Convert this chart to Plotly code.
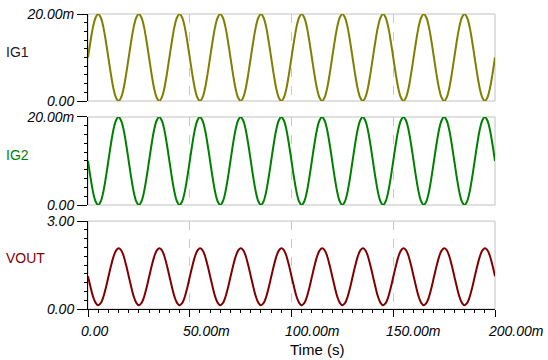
import plotly.graph_objects as go

# Time samples (ms)
t_ms = [
    0.0, 1.25, 2.5, 3.75, 5.0, 6.25, 7.5, 8.75, 10.0, 11.25, 12.5, 13.75, 15.0, 16.25, 17.5, 18.75,
    20.0, 21.25, 22.5, 23.75, 25.0, 26.25, 27.5, 28.75, 30.0, 31.25, 32.5, 33.75, 35.0, 36.25, 37.5, 38.75,
    40.0, 41.25, 42.5, 43.75, 45.0, 46.25, 47.5, 48.75, 50.0, 51.25, 52.5, 53.75, 55.0, 56.25, 57.5, 58.75,
    60.0, 61.25, 62.5, 63.75, 65.0, 66.25, 67.5, 68.75, 70.0, 71.25, 72.5, 73.75, 75.0, 76.25, 77.5, 78.75,
    80.0, 81.25, 82.5, 83.75, 85.0, 86.25, 87.5, 88.75, 90.0, 91.25, 92.5, 93.75, 95.0, 96.25, 97.5, 98.75,
    100.0, 101.25, 102.5, 103.75, 105.0, 106.25, 107.5, 108.75, 110.0, 111.25, 112.5, 113.75, 115.0, 116.25, 117.5, 118.75,
    120.0, 121.25, 122.5, 123.75, 125.0, 126.25, 127.5, 128.75, 130.0, 131.25, 132.5, 133.75, 135.0, 136.25, 137.5, 138.75,
    140.0, 141.25, 142.5, 143.75, 145.0, 146.25, 147.5, 148.75, 150.0, 151.25, 152.5, 153.75, 155.0, 156.25, 157.5, 158.75,
    160.0, 161.25, 162.5, 163.75, 165.0, 166.25, 167.5, 168.75, 170.0, 171.25, 172.5, 173.75, 175.0, 176.25, 177.5, 178.75,
    180.0, 181.25, 182.5, 183.75, 185.0, 186.25, 187.5, 188.75, 190.0, 191.25, 192.5, 193.75, 195.0, 196.25, 197.5, 198.75,
    200.0,
]

# IG1 (mA)
ig1_mA = [
    10.0, 13.8, 17.1, 19.2, 20.0, 19.2, 17.1, 13.8, 10.0, 6.2, 2.9, 0.8, 0.0, 0.8, 2.9, 6.2,
    10.0, 13.8, 17.1, 19.2, 20.0, 19.2, 17.1, 13.8, 10.0, 6.2, 2.9, 0.8, 0.0, 0.8, 2.9, 6.2,
    10.0, 13.8, 17.1, 19.2, 20.0, 19.2, 17.1, 13.8, 10.0, 6.2, 2.9, 0.8, 0.0, 0.8, 2.9, 6.2,
    10.0, 13.8, 17.1, 19.2, 20.0, 19.2, 17.1, 13.8, 10.0, 6.2, 2.9, 0.8, 0.0, 0.8, 2.9, 6.2,
    10.0, 13.8, 17.1, 19.2, 20.0, 19.2, 17.1, 13.8, 10.0, 6.2, 2.9, 0.8, 0.0, 0.8, 2.9, 6.2,
    10.0, 13.8, 17.1, 19.2, 20.0, 19.2, 17.1, 13.8, 10.0, 6.2, 2.9, 0.8, 0.0, 0.8, 2.9, 6.2,
    10.0, 13.8, 17.1, 19.2, 20.0, 19.2, 17.1, 13.8, 10.0, 6.2, 2.9, 0.8, 0.0, 0.8, 2.9, 6.2,
    10.0, 13.8, 17.1, 19.2, 20.0, 19.2, 17.1, 13.8, 10.0, 6.2, 2.9, 0.8, 0.0, 0.8, 2.9, 6.2,
    10.0, 13.8, 17.1, 19.2, 20.0, 19.2, 17.1, 13.8, 10.0, 6.2, 2.9, 0.8, 0.0, 0.8, 2.9, 6.2,
    10.0, 13.8, 17.1, 19.2, 20.0, 19.2, 17.1, 13.8, 10.0, 6.2, 2.9, 0.8, 0.0, 0.8, 2.9, 6.2,
    10.0,
]

# IG2 (mA)
ig2_mA = [
    10.0, 6.2, 2.9, 0.8, 0.0, 0.8, 2.9, 6.2, 10.0, 13.8, 17.1, 19.2, 20.0, 19.2, 17.1, 13.8,
    10.0, 6.2, 2.9, 0.8, 0.0, 0.8, 2.9, 6.2, 10.0, 13.8, 17.1, 19.2, 20.0, 19.2, 17.1, 13.8,
    10.0, 6.2, 2.9, 0.8, 0.0, 0.8, 2.9, 6.2, 10.0, 13.8, 17.1, 19.2, 20.0, 19.2, 17.1, 13.8,
    10.0, 6.2, 2.9, 0.8, 0.0, 0.8, 2.9, 6.2, 10.0, 13.8, 17.1, 19.2, 20.0, 19.2, 17.1, 13.8,
    10.0, 6.2, 2.9, 0.8, 0.0, 0.8, 2.9, 6.2, 10.0, 13.8, 17.1, 19.2, 20.0, 19.2, 17.1, 13.8,
    10.0, 6.2, 2.9, 0.8, 0.0, 0.8, 2.9, 6.2, 10.0, 13.8, 17.1, 19.2, 20.0, 19.2, 17.1, 13.8,
    10.0, 6.2, 2.9, 0.8, 0.0, 0.8, 2.9, 6.2, 10.0, 13.8, 17.1, 19.2, 20.0, 19.2, 17.1, 13.8,
    10.0, 6.2, 2.9, 0.8, 0.0, 0.8, 2.9, 6.2, 10.0, 13.8, 17.1, 19.2, 20.0, 19.2, 17.1, 13.8,
    10.0, 6.2, 2.9, 0.8, 0.0, 0.8, 2.9, 6.2, 10.0, 13.8, 17.1, 19.2, 20.0, 19.2, 17.1, 13.8,
    10.0, 6.2, 2.9, 0.8, 0.0, 0.8, 2.9, 6.2, 10.0, 13.8, 17.1, 19.2, 20.0, 19.2, 17.1, 13.8,
    10.0,
]

# VOUT (V)
vout_V = [
    1.12, 0.75, 0.42, 0.21, 0.13, 0.20, 0.40, 0.72, 1.09, 1.46, 1.78, 1.99, 2.07, 2.01, 1.81, 1.49,
    1.12, 0.75, 0.42, 0.21, 0.13, 0.20, 0.40, 0.72, 1.09, 1.46, 1.78, 1.99, 2.07, 2.01, 1.81, 1.49,
    1.12, 0.75, 0.42, 0.21, 0.13, 0.20, 0.40, 0.72, 1.09, 1.46, 1.78, 1.99, 2.07, 2.01, 1.81, 1.49,
    1.12, 0.75, 0.42, 0.21, 0.13, 0.20, 0.40, 0.72, 1.09, 1.46, 1.78, 1.99, 2.07, 2.01, 1.81, 1.49,
    1.12, 0.75, 0.42, 0.21, 0.13, 0.20, 0.40, 0.72, 1.09, 1.46, 1.78, 1.99, 2.07, 2.01, 1.81, 1.49,
    1.12, 0.75, 0.42, 0.21, 0.13, 0.20, 0.40, 0.72, 1.09, 1.46, 1.78, 1.99, 2.07, 2.01, 1.81, 1.49,
    1.12, 0.75, 0.42, 0.21, 0.13, 0.20, 0.40, 0.72, 1.09, 1.46, 1.78, 1.99, 2.07, 2.01, 1.81, 1.49,
    1.12, 0.75, 0.42, 0.21, 0.13, 0.20, 0.40, 0.72, 1.09, 1.46, 1.78, 1.99, 2.07, 2.01, 1.81, 1.49,
    1.12, 0.75, 0.42, 0.21, 0.13, 0.20, 0.40, 0.72, 1.09, 1.46, 1.78, 1.99, 2.07, 2.01, 1.81, 1.49,
    1.12, 0.75, 0.42, 0.21, 0.13, 0.20, 0.40, 0.72, 1.09, 1.46, 1.78, 1.99, 2.07, 2.01, 1.81, 1.49,
    1.12,
]

x_tick_vals = [0, 50, 100, 150, 200]
x_tick_text = ["0.00", "50.00m", "100.00m", "150.00m", "200.00m"]
ig_tick_vals = [0, 20]
ig_tick_text = ["0.00", "20.00m"]
v_tick_vals = [0, 3]
v_tick_text = ["0.00", "3.00"]

panel_names = ["IG1", "IG2", "VOUT"]
panel_colors = ["#7f7f00", "#008000", "#800000"]
label_colors = ["#1a1a1a", "#008000", "#800000"]

FONT = "Liberation Sans, Arial, sans-serif"
domains = [[0.705, 1.0], [0.3525, 0.651], [0.0, 0.298]]
label_y = [0.871, 0.522, 0.173]

fig = go.Figure()
series = [ig1_mA, ig2_mA, vout_V]
for i, ys in enumerate(series):
    fig.add_trace(go.Scatter(
        x=t_ms, y=ys, mode="lines", line=dict(color=panel_colors[i], width=2, shape="spline"),
        xaxis="x" if i == 0 else f"x{i+1}", yaxis="y" if i == 0 else f"y{i+1}",
        showlegend=False, hoverinfo="skip",
    ))

grid = dict(showgrid=True, gridcolor="#c8c8c8", griddash="dash", gridwidth=1,
            tickmode="array", tickvals=x_tick_vals, range=[0, 200], zeroline=False,
            automargin=False)

layout = dict(
    width=548, height=360,
    margin=dict(l=88, r=53, t=14, b=51, autoexpand=False),
    paper_bgcolor="white", plot_bgcolor="white",
    font=dict(family=FONT, size=14, color="black"),
)

for i in range(3):
    xa = "xaxis" if i == 0 else f"xaxis{i+1}"
    ya = "yaxis" if i == 0 else f"yaxis{i+1}"
    yanchor_name = "y" if i == 0 else f"y{i+1}"
    xanchor_name = "x" if i == 0 else f"x{i+1}"
    xcfg = dict(grid, anchor=yanchor_name, domain=[0, 1], showticklabels=False)
    if i < 2:
        xcfg.update(showline=False, ticks="", matches="x3")
    else:
        xcfg.update(showline=True, linecolor="black", linewidth=1, ticks="outside",
                    ticklen=7, tickcolor="black",
                    minor=dict(tickmode="linear", tick0=0, dtick=5, ticks="outside",
                               ticklen=3, tickcolor="black", showgrid=False))
    layout[xa] = xcfg
    if i < 2:
        tv, tt, rng, md = ig_tick_vals, ig_tick_text, [0, 20], 2
    else:
        tv, tt, rng, md = v_tick_vals, v_tick_text, [0, 3], 0.3
    layout[ya] = dict(
        domain=domains[i], anchor=xanchor_name, range=rng, showgrid=False, zeroline=False,
        showline=True, linecolor="black", linewidth=1, automargin=False,
        tickmode="array", tickvals=tv, ticktext=[f"<i>{s}</i>" for s in tt],
        ticks="outside", ticklen=10, tickcolor="black", ticklabeloverflow="allow",
        tickfont=dict(family=FONT, size=14, color="black"),
        minor=dict(tickmode="linear", tick0=0, dtick=md, ticks="outside", ticklen=3,
                   tickcolor="black", showgrid=False),
    )

fig.update_layout(**layout)

shapes = []
for d in domains:
    shapes.append(dict(type="rect", xref="paper", yref="paper", x0=0, x1=1, y0=d[0], y1=d[1],
                       line=dict(color="#c0c0c0", width=1), layer="below"))
fig.update_layout(shapes=shapes)

annotations = []
for v, s in zip(x_tick_vals, x_tick_text):
    annotations.append(dict(x=v, xref="x3", y=-0.0746, yref="paper", text=f"<i>{s}</i>",
                            showarrow=False, xanchor="left", yanchor="middle", xshift=-9,
                            font=dict(family=FONT, size=14, color="black")))
for i, name in enumerate(panel_names):
    annotations.append(dict(x=-0.2064, xref="paper", y=label_y[i], yref="paper", text=name,
                            showarrow=False, xanchor="left", yanchor="middle",
                            font=dict(family=FONT, size=14, color=label_colors[i])))
annotations.append(dict(x=0.5627, xref="paper", y=-0.1356, yref="paper", text="Time (s)",
                        showarrow=False, xanchor="center", yanchor="middle",
                        font=dict(family=FONT, size=15, color="black")))
fig.update_layout(annotations=annotations)

fig.write_html("out.html", config={"displayModeBar": False},
               post_script="document.body.style.margin='0';")
